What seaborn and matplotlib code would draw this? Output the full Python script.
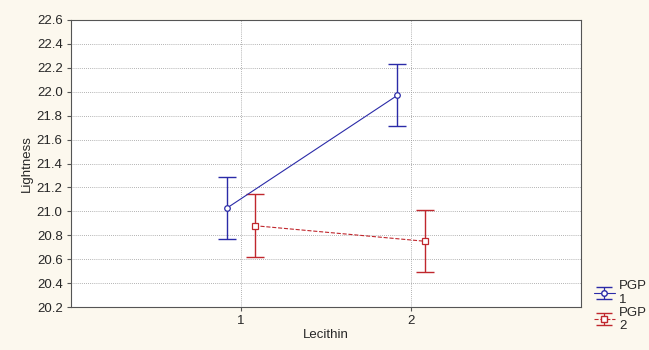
import numpy as np
import pandas as pd
import matplotlib.pyplot as plt
import seaborn as sns
from matplotlib.legend_handler import HandlerErrorbar

# values
lecithin = [1, 2]
groups = ["PGP\n1", "PGP\n2"]
means_1 = [21.03, 21.97]
means_2 = [20.88, 20.75]
err_1 = [0.26, 0.26]
err_2 = [0.265, 0.26]

colors = ["#2b2ba8", "#c0272d"]
markers = ["o", "s"]
styles = ["-", "--"]
offset = [-0.08, 0.08]

sns.set_style("white")
plt.rcParams["font.family"] = ["Liberation Sans", "DejaVu Sans"]
fs = 9.5

fig = plt.figure(figsize=(6.49, 3.5), dpi=100, facecolor="#fcf8ee")
ax = fig.add_axes([71 / 649, 1 - 307 / 350, 510 / 649, 287 / 350])
ax.set_facecolor("white")

df = pd.DataFrame({
    "Lecithin": lecithin * 2,
    "Lightness": means_1 + means_2,
    "err": err_1 + err_2,
    "group": [groups[0]] * 2 + [groups[1]] * 2,
})

handles = []
for i, g in enumerate(groups):
    d = df[df["group"] == g].copy()
    d["x"] = d["Lecithin"] + offset[i]
    sns.lineplot(data=d, x="x", y="Lightness", ax=ax, color=colors[i],
                 linestyle=styles[i], linewidth=0.8, marker=markers[i],
                 markersize=4, markerfacecolor="white", markeredgecolor=colors[i],
                 markeredgewidth=0.9, legend=False, zorder=3)
    ax.errorbar(d["x"], d["Lightness"], yerr=d["err"], fmt="none",
                ecolor=colors[i], elinewidth=1.0, capsize=6.5, capthick=1.0,
                zorder=2)
    # legend-only handle drawn at nan so nothing shows on the axes
    h = ax.errorbar([np.nan], [np.nan], yerr=[1], fmt=markers[i], color=colors[i],
                    linestyle=styles[i], linewidth=0.8, markersize=4,
                    markerfacecolor="white", capsize=5.5, elinewidth=0.9)
    handles.append(h)

ax.set_xlim(0, 3)
ax.set_ylim(20.2, 22.6)
ax.set_xticks([1, 2])
ax.set_yticks([20.2 + 0.2 * k for k in range(13)])
ax.set_yticklabels([f"{20.2 + 0.2 * k:.1f}" for k in range(13)])
ax.grid(True, color="#9a9a9a", linestyle=(0, (1, 1.5)), linewidth=0.6)
ax.tick_params(axis="both", labelsize=fs, length=3, direction="out",
               left=True, bottom=True, color="#555555", pad=3)
for s in ax.spines.values():
    s.set_color("#555555")
    s.set_linewidth(0.8)
ax.set_xlabel("Lecithin", fontsize=fs, labelpad=1)
ax.set_ylabel("Lightness", fontsize=fs, labelpad=3)

fig.legend(handles, groups, loc="lower left",
           bbox_to_anchor=(587 / 649, 11 / 350), frameon=False,
           fontsize=fs, handlelength=1.6, handletextpad=0.35,
           labelspacing=0.05, borderpad=0,
           handler_map={type(handles[0]): HandlerErrorbar(yerr_size=0.45)})

fig.savefig("out.png", dpi=100, facecolor=fig.get_facecolor())
